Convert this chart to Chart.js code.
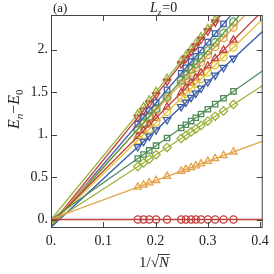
<!DOCTYPE html>
<html>
<head>
<meta charset="utf-8">
<script src="https://cdn.jsdelivr.net/npm/chart.js"></script>
<style>
  html, body { margin: 0; padding: 0; background: #fff; }
  #wrap { width: 274px; height: 274px; }
</style>
</head>
<body>
<div id="wrap"><canvas id="chart"></canvas></div>
<script>
// 1/sqrt(N) positions of the computed system sizes
const xs = [0.166, 0.177, 0.188, 0.201, 0.222, 0.249, 0.258, 0.268, 0.277, 0.287, 0.300, 0.314, 0.330, 0.349];

// excitation energies, one array per level (points above the frame left out)
const e0  = [0, 0, 0, 0, 0, 0, 0, 0, 0, 0, 0, 0, 0, 0];
const e1  = [0.382, 0.407, 0.432, 0.461, 0.509, 0.570, 0.591, 0.613, 0.634, 0.656, 0.686, 0.718, 0.754, 0.797];
const e2  = [0.624, 0.668, 0.712, 0.764, 0.848, 0.956, 0.992, 1.032, 1.068, 1.108, 1.160, 1.216, 1.280, 1.356];
const e3  = [0.719, 0.766, 0.814, 0.870, 0.961, 1.078, 1.117, 1.160, 1.199, 1.243, 1.299, 1.360, 1.429, 1.511];
const e4  = [0.856, 0.919, 0.982, 1.056, 1.175, 1.329, 1.381, 1.438, 1.489, 1.546, 1.620, 1.700, 1.791, 1.899];
const e5  = [0.933, 0.998, 1.064, 1.142, 1.268, 1.429, 1.483, 1.543, 1.596, 1.656, 1.734, 1.818, 1.913, 2.027];
const e6  = [0.979, 1.047, 1.116, 1.196, 1.326, 1.494, 1.550, 1.612, 1.667, 1.729, 1.810, 1.897, 1.996, 2.114];
const e7  = [1.065, 1.141, 1.217, 1.307, 1.452, 1.638, 1.700, 1.769, 1.831, 1.900, 1.990, 2.087, 2.197, 2.328];
const e8  = [1.056, 1.128, 1.201, 1.287, 1.425, 1.603, 1.663, 1.729, 1.788, 1.854, 1.940, 2.032, 2.138, 2.263];
const e9  = [1.125, 1.204, 1.284, 1.377, 1.528, 1.723, 1.788, 1.860, 1.924, 1.996, 2.090, 2.191, 2.306];
const e10 = [1.202, 1.285, 1.369, 1.468, 1.627, 1.832, 1.901, 1.977, 2.045, 2.121, 2.220, 2.326];
const e11 = [1.245, 1.328, 1.410, 1.508, 1.665, 1.868, 1.935, 2.010, 2.078, 2.153, 2.250, 2.355];

// linear fits E = a + b / sqrt(N)
const fitA = [0, 0.005, -0.04, 0.0, -0.09, -0.06, -0.05, -0.08, -0.04, -0.07, -0.06, 0.0];
const fitB = [0, 2.27, 4.0, 4.33, 5.7, 5.98, 6.2, 6.9, 6.6, 7.2, 7.6, 7.5];

const xTicks = [0, 0.1, 0.2, 0.3, 0.4];
const yTicks = [0, 0.5, 1, 1.5, 2];

const XMIN = 0, XMAX = 0.405, YMIN = -0.1, YMAX = 2.41;

// hexagon marker
function hexMarker(color) {
  const c = document.createElement('canvas');
  c.width = 11; c.height = 11;
  const g = c.getContext('2d');
  g.strokeStyle = color; g.lineWidth = 1.3;
  g.beginPath();
  for (let i = 0; i < 6; i++) {
    const a = Math.PI / 6 + i * Math.PI / 3;
    const px = 5.5 + 4.2 * Math.cos(a), py = 5.5 + 4.2 * Math.sin(a);
    i ? g.lineTo(px, py) : g.moveTo(px, py);
  }
  g.closePath(); g.stroke();
  return c;
}

const RED = '#c0403c', ORANGE = '#e3a24a', OLIVE = '#9bb23a', GREEN = '#4d8a55',
      BLUE = '#3d5fa8', YELLOW = '#e2c23e', HEXGREEN = '#5d9a45';

const levels = [
  { data: e0,  color: RED,      style: 'circle' },
  { data: e1,  color: ORANGE,   style: 'triangle' },
  { data: e2,  color: OLIVE,    style: 'rectRot' },
  { data: e3,  color: GREEN,    style: 'rect' },
  { data: e4,  color: BLUE,     style: 'triangle', rot: 180 },
  { data: e5,  color: YELLOW,   style: 'circle' },
  { data: e6,  color: RED,      style: 'triangle' },
  { data: e7,  color: HEXGREEN, style: hexMarker(HEXGREEN) },
  { data: e8,  color: ORANGE,   style: 'circle' },
  { data: e9,  color: BLUE,     style: 'rect' },
  { data: e10, color: RED,      style: 'triangle', rot: 180 },
  { data: e11, color: OLIVE,    style: 'triangle' }
];

const datasets = [];
levels.forEach((lv, i) => {
  datasets.push({
    data: [{ x: XMIN, y: fitA[i] }, { x: XMAX, y: fitA[i] + fitB[i] * XMAX }],
    borderColor: lv.color,
    borderWidth: 1.3,
    pointRadius: 0,
    showLine: true
  });
});
levels.forEach((lv) => {
  datasets.push({
    data: lv.data.map((y, j) => ({ x: xs[j], y: y })),
    showLine: false,
    borderColor: lv.color,
    backgroundColor: 'rgba(0,0,0,0)',
    pointStyle: lv.style,
    pointRotation: lv.rot || 0,
    pointRadius: lv.style === 'rect' ? 3.8 : (lv.style === 'circle' ? 3.6 : 4.2),
    pointBorderWidth: 1.3
  });
});

const FONT = '"Liberation Serif", "DejaVu Serif", serif';

function fmt(v) {
  const r = Math.round(v * 10) / 10;
  return Number.isInteger(r) ? r + '.' : String(r);
}

const framePlugin = {
  id: 'frame',
  afterDraw(chart) {
    const { ctx, chartArea: a, scales } = chart;
    ctx.save();
    ctx.strokeStyle = '#444';
    ctx.lineWidth = 1;
    ctx.strokeRect(a.left + 0.5, a.top + 0.5, a.right - a.left - 1, a.bottom - a.top - 1);
    const tl = 6;
    ctx.beginPath();
    xTicks.forEach(v => {
      const px = Math.round(scales.x.getPixelForValue(v)) + 0.5;
      ctx.moveTo(px, a.bottom); ctx.lineTo(px, a.bottom - tl);
      ctx.moveTo(px, a.top); ctx.lineTo(px, a.top + tl);
    });
    yTicks.forEach(v => {
      const py = Math.round(scales.y.getPixelForValue(v)) + 0.5;
      ctx.moveTo(a.left, py); ctx.lineTo(a.left + tl, py);
      ctx.moveTo(a.right, py); ctx.lineTo(a.right - tl, py);
    });
    ctx.stroke();

    ctx.fillStyle = '#222';
    ctx.textBaseline = 'alphabetic';
    // panel tag
    ctx.font = '13px ' + FONT;
    ctx.textAlign = 'left';
    ctx.fillText('(a)', 53, 12);
    // L_z = 0
    let x = 150;
    ctx.font = 'italic 14px ' + FONT;
    ctx.fillText('L', x, 12); x += ctx.measureText('L').width;
    ctx.font = 'italic 9px ' + FONT;
    ctx.fillText('z', x, 15); x += ctx.measureText('z').width + 1;
    ctx.font = '14px ' + FONT;
    ctx.fillText('=0', x, 12);

    // x label 1/sqrt(N)
    ctx.font = '15px ' + FONT;
    let lx = 139, ly = 267;
    ctx.fillText('1/\u221A', lx, ly);
    lx += ctx.measureText('1/\u221A').width;
    ctx.font = 'italic 15px ' + FONT;
    const nw = ctx.measureText('N').width;
    ctx.fillText('N', lx, ly);
    ctx.beginPath();
    ctx.lineWidth = 0.9;
    ctx.strokeStyle = '#222';
    ctx.moveTo(lx - 1, ly - 12.5); ctx.lineTo(lx + nw + 1, ly - 12.5);
    ctx.stroke();

    // y label E_n - E_0
    ctx.save();
    ctx.translate(19, 100);
    ctx.rotate(-Math.PI / 2);
    let t = -29;
    ctx.font = 'italic 16px ' + FONT;
    ctx.fillText('E', t, 0); t += ctx.measureText('E').width;
    ctx.font = 'italic 11px ' + FONT;
    ctx.fillText('n', t, 4); t += ctx.measureText('n').width;
    ctx.font = '16px ' + FONT;
    ctx.fillText('\u2212', t, 0); t += ctx.measureText('\u2212').width;
    ctx.font = 'italic 16px ' + FONT;
    ctx.fillText('E', t, 0); t += ctx.measureText('E').width;
    ctx.font = '11px ' + FONT;
    ctx.fillText('0', t, 4);
    ctx.restore();
    ctx.restore();
  }
};

new Chart(document.getElementById('chart').getContext('2d'), {
  type: 'scatter',
  data: { datasets: datasets },
  options: {
    responsive: true,
    maintainAspectRatio: false,
    animation: false,
    events: [],
    layout: { padding: { top: 15, right: 11, left: 0, bottom: 0 } },
    plugins: { legend: { display: false }, tooltip: { enabled: false } },
    scales: {
      x: {
        type: 'linear',
        min: XMIN, max: XMAX,
        grid: { display: false, drawTicks: false },
        border: { display: false },
        afterBuildTicks: s => { s.ticks = xTicks.map(v => ({ value: v })); },
        afterFit: s => { s.height = 46; },
        ticks: {
          padding: 5,
          color: '#222',
          font: { family: FONT, size: 14 },
          maxRotation: 0,
          callback: v => fmt(v)
        }
      },
      y: {
        type: 'linear',
        min: YMIN, max: YMAX,
        grid: { display: false, drawTicks: false },
        border: { display: false },
        afterBuildTicks: s => { s.ticks = yTicks.map(v => ({ value: v })); },
        afterFit: s => { s.width = 51; },
        ticks: {
          padding: 3,
          color: '#222',
          font: { family: FONT, size: 14 },
          callback: v => fmt(v)
        }
      }
    }
  },
  plugins: [framePlugin]
});
</script>
</body>
</html>
